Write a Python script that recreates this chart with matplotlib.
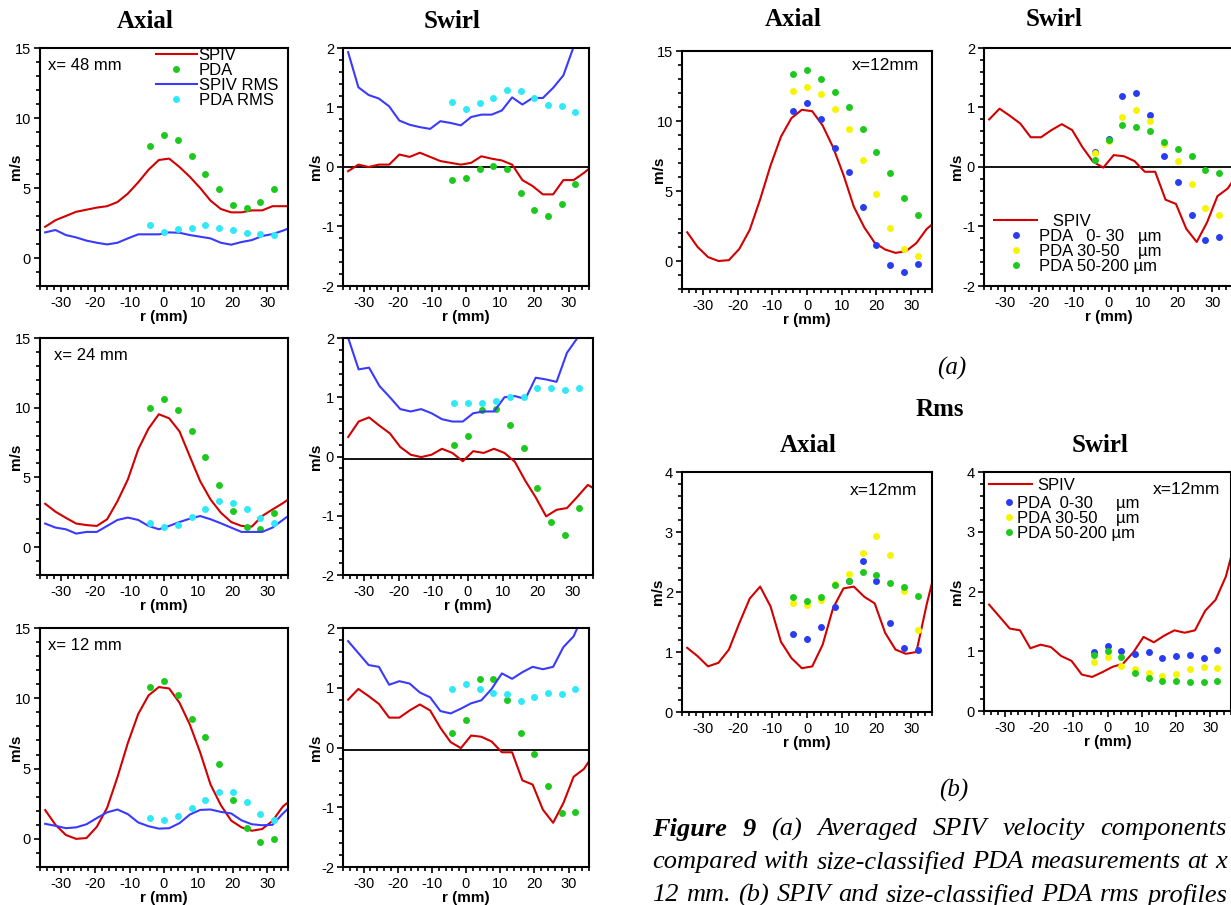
import matplotlib.pyplot as plt
from matplotlib.ticker import MultipleLocator

plt.rcParams['font.family'] = ['Liberation Sans', 'DejaVu Sans']
plt.rcParams['axes.unicode_minus'] = False

W, H = 1231, 905

# radial positions (mm)
r_spiv = [-34.5, -31.5, -28.5, -25.5, -22.5, -19.5, -16.5, -13.5, -10.5, -7.5, -4.5, -1.5,
          1.5, 4.5, 7.5, 10.5, 13.5, 16.5, 19.5, 22.5, 25.5, 28.5, 31.5, 34.5, 37.5]
r_pda = [-4, 0, 4, 8, 12, 16, 20, 24, 28, 32]

# x = 48 mm
ax48_spiv = [2.23, 2.7, 3.0, 3.3, 3.45, 3.6, 3.7, 4.0, 4.6, 5.4, 6.3, 7.0, 7.1, 6.5, 5.8, 5.0,
             4.1, 3.5, 3.26, 3.26, 3.4, 3.4, 3.7, 3.7, 3.7]
ax48_spiv_rms = [1.83, 2.0, 1.64, 1.47, 1.24, 1.09, 0.97, 1.09, 1.4, 1.69, 1.69, 1.69, 1.83, 1.8,
                 1.64, 1.52, 1.4, 1.09, 0.95, 1.14, 1.28, 1.57, 1.71, 1.95, 2.25]
ax48_pda = [8.0, 8.8, 8.4, 7.3, 6.0, 4.9, 3.8, 3.6, 4.0, 4.9]
ax48_pda_rms = [2.33, 1.85, 2.05, 2.16, 2.33, 2.16, 2.0, 1.76, 1.71, 1.64]
sw48_spiv = [-0.07, 0.04, 0.0, 0.04, 0.04, 0.21, 0.17, 0.24, 0.17, 0.10, 0.07, 0.04, 0.07, 0.18,
             0.14, 0.11, 0.04, -0.22, -0.32, -0.46, -0.46, -0.22, -0.22, -0.1, 0.04]
sw48_spiv_rms = [1.93, 1.34, 1.21, 1.15, 1.02, 0.78, 0.71, 0.67, 0.64, 0.77, 0.74, 0.70, 0.84, 0.88,
                 0.88, 0.95, 1.17, 1.05, 1.16, 1.16, 1.33, 1.54, 2.02, 2.6, 3.2]
sw48_pda = [-0.22, -0.18, -0.03, 0.01, -0.04, -0.43, -0.73, -0.83, -0.63, -0.28]
sw48_pda_rms = [1.09, 0.98, 1.07, 1.16, 1.29, 1.27, 1.16, 1.05, 1.02, 0.92]

# x = 24 mm
ax24_spiv = [3.11, 2.54, 2.1, 1.69, 1.58, 1.52, 2.0, 3.3, 4.85, 7.0, 8.5, 9.53, 9.24, 8.3, 6.5,
             4.73, 3.42, 2.47, 1.8, 1.52, 1.47, 2.23, 2.7, 3.15, 3.65]
ax24_spiv_rms = [1.69, 1.4, 1.28, 0.97, 1.09, 1.09, 1.52, 1.95, 2.12, 1.95, 1.52, 1.28, 1.52, 1.8,
                 2.04, 2.23, 2.0, 1.71, 1.4, 1.09, 1.09, 1.09, 1.4, 1.95, 2.5]
ax24_pda = [10.0, 10.6, 9.86, 8.3, 6.47, 4.47, 2.61, 1.47, 1.28, 2.47]
ax24_pda_rms = [1.76, 1.43, 1.6, 2.19, 2.76, 3.33, 3.19, 2.76, 2.07, 1.76]
sw24_spiv = [0.33, 0.59, 0.66, 0.52, 0.39, 0.16, 0.03, -0.01, 0.03, 0.13, 0.06, -0.08, 0.09, 0.06,
             0.13, 0.06, -0.09, -0.41, -0.69, -1.01, -0.9, -0.87, -0.68, -0.48, -0.58]
sw24_spiv_rms = [2.0, 1.47, 1.50, 1.19, 1.0, 0.80, 0.76, 0.80, 0.73, 0.63, 0.59, 0.59, 0.73, 0.76,
                 0.76, 1.0, 1.02, 0.97, 1.33, 1.30, 1.26, 1.75, 2.0, 2.5, 3.0]
sw24_pda = [0.19, 0.34, 0.78, 0.81, 0.54, 0.15, -0.53, -1.11, -1.32, -0.87]
sw24_pda_rms = [0.91, 0.91, 0.91, 0.94, 1.01, 1.01, 1.15, 1.15, 1.12, 1.15]

# x = 12 mm
ax12_spiv = [2.05, 1.0, 0.28, 0.0, 0.06, 0.86, 2.22, 4.4, 6.82, 8.88, 10.2, 10.8, 10.7, 9.68, 8.13,
             6.15, 3.87, 2.4, 1.3, 0.82, 0.58, 0.7, 1.28, 2.3, 2.9]
ax12_spiv_rms = [1.07, 0.93, 0.76, 0.82, 1.04, 1.48, 1.89, 2.09, 1.76, 1.17, 0.9, 0.73, 0.76, 1.12,
                 1.73, 2.06, 2.09, 1.92, 1.81, 1.32, 1.04, 0.97, 1.0, 1.8, 2.5]
ax12_pda = [10.77, 11.2, 10.23, 8.54, 7.28, 5.33, 2.77, 0.77, -0.23, 0.0]
ax12_pda_rms = [1.5, 1.36, 1.6, 2.2, 2.77, 3.33, 3.33, 2.63, 1.78, 1.36]
sw12_spiv = [0.8, 0.98, 0.86, 0.73, 0.5, 0.5, 0.62, 0.72, 0.62, 0.33, 0.09, -0.01, 0.2, 0.18, 0.1,
             -0.08, -0.08, -0.55, -0.62, -1.04, -1.26, -0.93, -0.49, -0.36, -0.1]
sw12_spiv_rms = [1.78, 1.58, 1.38, 1.35, 1.05, 1.11, 1.07, 0.92, 0.84, 0.61, 0.57, 0.65, 0.74, 0.79,
                 0.98, 1.24, 1.15, 1.26, 1.35, 1.31, 1.35, 1.68, 1.86, 2.25, 2.9]
sw12_pda = [0.24, 0.46, 1.15, 1.15, 0.8, 0.24, -0.11, -0.64, -1.1, -1.08]
sw12_pda_rms = [0.98, 1.07, 0.98, 0.91, 0.9, 0.77, 0.84, 0.92, 0.9, 0.98]

# x = 12 mm, size-classified PDA
size_labels_a = ['PDA   0- 30   \u00b5m', 'PDA 30-50    \u00b5m', 'PDA 50-200 \u00b5m']
size_labels_b = ['PDA  0-30     \u00b5m', 'PDA 30-50    \u00b5m', 'PDA 50-200 \u00b5m']
ax12_size = [[10.68, 11.27, 10.13, 8.06, 6.38, 3.83, 1.16, -0.31, -0.78, -0.24],
             [12.17, 12.4, 11.93, 10.84, 9.43, 7.25, 4.77, 2.34, 0.87, 0.38],
             [13.39, 13.63, 12.97, 12.05, 10.98, 9.43, 7.82, 6.26, 4.49, 3.31]]
sw12_size = [[0.25, 0.47, 1.2, 1.24, 0.87, 0.18, -0.25, -0.81, -1.22, -1.17],
             [0.23, 0.43, 0.84, 0.95, 0.77, 0.39, 0.1, -0.29, -0.69, -0.81],
             [0.11, 0.46, 0.71, 0.67, 0.61, 0.42, 0.3, 0.19, -0.05, -0.1]]
ax12_size_rms = [[1.3, 1.22, 1.41, 1.75, 2.18, 2.51, 2.18, 1.48, 1.07, 1.03],
                 [1.81, 1.78, 1.87, 2.13, 2.3, 2.65, 2.94, 2.61, 2.01, 1.37],
                 [1.91, 1.85, 1.91, 2.11, 2.18, 2.34, 2.28, 2.15, 2.08, 1.94]]
sw12_size_rms = [[0.99, 1.09, 1.01, 0.95, 0.99, 0.89, 0.92, 0.93, 0.89, 1.02],
                 [0.82, 0.91, 0.76, 0.7, 0.64, 0.59, 0.62, 0.7, 0.74, 0.72],
                 [0.93, 1.01, 0.91, 0.63, 0.55, 0.5, 0.51, 0.49, 0.49, 0.51]]

caption_lines = [
    ['Figure', '9', '(a)', 'Averaged', 'SPIV', 'velocity', 'components'],
    ['compared', 'with', 'size-classified', 'PDA', 'measurements', 'at', 'x'],
    ['12', 'mm.', '(b)', 'SPIV', 'and', 'size-classified', 'PDA', 'rms', 'profiles'],
]

RED = '#d20000'
BLUE = '#3a3aff'
GREEN = '#1ec81e'
CYAN = '#30e8f8'
YELLOW = '#f5f500'
size_colors = ['#2a3cf0', YELLOW, GREEN]

fig = plt.figure(figsize=(W / 100, H / 100), dpi=100)


def add_ax(l, t, r, b):
    return fig.add_axes([l / W, 1 - b / H, (r - l) / W, (b - t) / H])


def style(ax, ylim, major, minor, ylab_x):
    ax.set_xlim(-36, 36)
    ax.set_ylim(*ylim)
    ax.xaxis.set_major_locator(MultipleLocator(10))
    ax.xaxis.set_minor_locator(MultipleLocator(2))
    ax.yaxis.set_major_locator(MultipleLocator(major))
    ax.yaxis.set_minor_locator(MultipleLocator(minor))
    ax.tick_params(which='both', direction='out', labelsize=10.5, width=1.2)
    ax.tick_params(which='major', length=4.5, pad=2)
    ax.tick_params(axis='x', which='major', pad=3)
    ax.tick_params(which='minor', length=3.2)
    for s in ax.spines.values():
        s.set_linewidth(1.5)
    ax.set_xlabel('r (mm)', fontweight='bold', fontsize=11, labelpad=-0.5)
    ax.set_ylabel('m/s', fontweight='bold', fontsize=11)
    ax.yaxis.set_label_coords(ylab_x, 0.5)


def spiv(ax, vals, color, label=None):
    ax.plot(r_spiv, vals, color=color, lw=1.5, label=label)


def pda(ax, vals, color, label=None):
    return ax.plot(r_pda, vals, 'o', color=color, ms=5, mew=0, label=label)


# ---- left block: x = 48, 24, 12 mm ----
rows = [
    (48, 286, 48, 0.032, ax48_spiv, ax48_spiv_rms, ax48_pda, ax48_pda_rms,
     sw48_spiv, sw48_spiv_rms, sw48_pda, sw48_pda_rms, 0.0, 589),
    (338, 575, 24, 0.055, ax24_spiv, ax24_spiv_rms, ax24_pda, ax24_pda_rms,
     sw24_spiv, sw24_spiv_rms, sw24_pda, sw24_pda_rms, -0.035, 593),
    (628, 867, 12, 0.032, ax12_spiv, ax12_spiv_rms, ax12_pda, ax12_pda_rms,
     sw12_spiv, sw12_spiv_rms, sw12_pda, sw12_pda_rms, -0.035, 589),
]
for i, (t, b, xpos, tx, a_s, a_sr, a_p, a_pr, s_s, s_sr, s_p, s_pr, z, sright) in enumerate(rows):
    ax = add_ax(40, t, 288, b)
    style(ax, (-2, 15), 5, 1, -0.07)
    spiv(ax, a_s, RED, 'SPIV')
    pda(ax, a_p, GREEN, 'PDA')
    spiv(ax, a_sr, BLUE, 'SPIV RMS')
    pda(ax, a_pr, CYAN, 'PDA RMS')
    ax.text(tx, 0.925, f'x= {xpos} mm', transform=ax.transAxes,
            fontsize=12, va='center', ha='left')
    if i == 0:
        ax.legend(loc='upper left', bbox_to_anchor=(0.468, 1.0), frameon=False, fontsize=12,
                  handlelength=2.45, handletextpad=0.1, labelspacing=0.0, borderpad=0,
                  borderaxespad=0, numpoints=1)

    ax = add_ax(343, t, sright, b)
    style(ax, (-2, 2), 1, 0.2, -0.08)
    ax.axhline(z, color='black', lw=1.3)
    spiv(ax, s_s, RED)
    pda(ax, s_p, GREEN)
    spiv(ax, s_sr, BLUE)
    pda(ax, s_pr, CYAN)

title_kw = dict(family='Liberation Serif', weight='bold', fontsize=18, ha='center', va='center')
fig.text(145 / W, 1 - 21 / H, 'Axial', **title_kw)
fig.text(452 / W, 1 - 21 / H, 'Swirl', **title_kw)

# ---- right block (a): mean velocities at x = 12 mm ----
ax = add_ax(682, 51, 932, 289)
style(ax, (-2, 15), 5, 1, -0.064)
spiv(ax, ax12_spiv, RED)
for vals, c in zip(ax12_size, size_colors):
    pda(ax, vals, c)
ax.text(0.948, 0.937, 'x=12mm', transform=ax.transAxes, fontsize=12.5, ha='right', va='center')

ax = add_ax(984, 48, 1233, 286)
style(ax, (-2, 2), 1, 0.2, -0.08)
ax.axhline(0, color='black', lw=1.3)
spiv(ax, sw12_spiv, RED, '   SPIV')
for vals, c, lab in zip(sw12_size, size_colors, size_labels_a):
    pda(ax, vals, c, lab)
ax.legend(loc='lower left', bbox_to_anchor=(0.04, 0.05), frameon=False, fontsize=12,
          handlelength=2.6, handletextpad=0.1, labelspacing=0.0, borderpad=0,
          borderaxespad=0, numpoints=1)

fig.text(793 / W, 1 - 20 / H, 'Axial', **title_kw)
fig.text(1054 / W, 1 - 20 / H, 'Swirl', **title_kw)
fig.text(952 / W, 1 - 368 / H, '(a)', family='Liberation Serif', style='italic', fontsize=18,
         ha='center', va='center')
fig.text(940 / W, 1 - 410 / H, 'Rms', **title_kw)

# ---- right block (b): rms at x = 12 mm ----
ax = add_ax(682, 472, 932, 712)
style(ax, (0, 4), 1, 0.2, -0.068)
spiv(ax, ax12_spiv_rms, RED)
for vals, c in zip(ax12_size_rms, size_colors):
    pda(ax, vals, c)
ax.text(0.94, 0.925, 'x=12mm', transform=ax.transAxes, fontsize=12.5, ha='right', va='center')

ax = add_ax(984, 472, 1231, 711)
style(ax, (0, 4), 1, 0.2, -0.08)
spiv(ax, sw12_spiv_rms, RED, 'SPIV')
pts = []
for vals, c, lab in zip(sw12_size_rms, size_colors, size_labels_b):
    pts += pda(ax, vals, c, lab)
leg1 = ax.legend(handles=ax.lines[:1], loc='upper left', bbox_to_anchor=(0.02, 0.975),
                 frameon=False, fontsize=12, handlelength=2.6, handletextpad=0.3,
                 borderpad=0, borderaxespad=0)
ax.add_artist(leg1)
ax.legend(handles=pts, loc='upper left', bbox_to_anchor=(0.075, 0.9), frameon=False,
          fontsize=12, handlelength=0.8, handletextpad=0.05, labelspacing=0.0, borderpad=0,
          borderaxespad=0, numpoints=1)
ax.text(0.955, 0.925, 'x=12mm', transform=ax.transAxes, fontsize=12.5, ha='right', va='center')

fig.text(808 / W, 1 - 445 / H, 'Axial', **title_kw)
fig.text(1100 / W, 1 - 445 / H, 'Swirl', **title_kw)
fig.text(954 / W, 1 - 790 / H, '(b)', family='Liberation Serif', style='italic', fontsize=18,
         ha='center', va='center')

# ---- caption: justified between x=652 and x=1227 ----
cap = dict(family='Liberation Serif', style='italic', fontsize=19, va='center', ha='left')
renderer = fig.canvas.get_renderer()
for words, y, nbold in zip(caption_lines, [829, 862, 895], [2, 0, 0]):
    texts = [fig.text(0, 1 - y / H, w, weight='bold' if k < nbold else 'normal', **cap)
             for k, w in enumerate(words)]
    widths = [tt.get_window_extent(renderer).width for tt in texts]
    gap = (1227 - 652 - sum(widths)) / (len(words) - 1)
    x = 652
    for tt, w in zip(texts, widths):
        tt.set_x(x / W)
        x += w + gap

fig.savefig('out.png', dpi=100)
